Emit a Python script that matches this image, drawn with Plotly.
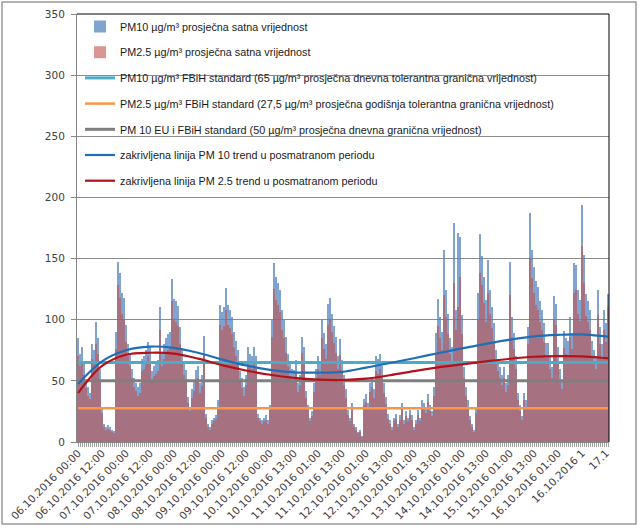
import plotly.graph_objects as go
import pandas as pd

# ---- categories: hourly, one hour (10.10.2016 12:00) missing in the record ----
hours = pd.date_range("2016-10-06 00:00", periods=267, freq="h")
hours = hours[hours != pd.Timestamp("2016-10-10 12:00")]
categories = [h.strftime("%d.%m.%Y %H:%M") for h in hours]

tick_categories = [
    "06.10.2016 00:00", "06.10.2016 12:00", "07.10.2016 00:00", "07.10.2016 12:00",
    "08.10.2016 00:00", "08.10.2016 12:00", "09.10.2016 00:00", "09.10.2016 12:00",
    "10.10.2016 00:00", "10.10.2016 13:00", "11.10.2016 01:00", "11.10.2016 13:00",
    "12.10.2016 01:00", "12.10.2016 13:00", "13.10.2016 01:00", "13.10.2016 13:00",
    "14.10.2016 01:00", "14.10.2016 13:00", "15.10.2016 01:00", "15.10.2016 13:00",
    "16.10.2016 01:00", "16.10.2016 13:00", "17.10.2016 01:00",
]
tick_labels = [
    "06.10.2016 00:00", "06.10.2016 12:00", "07.10.2016 00:00", "07.10.2016 12:00",
    "08.10.2016 00:00", "08.10.2016 12:00", "09.10.2016 00:00", "09.10.2016 12:00",
    "10.10.2016 00:00", "10.10.2016 13:00", "11.10.2016 01:00", "11.10.2016 13:00",
    "12.10.2016 01:00", "12.10.2016 13:00", "13.10.2016 01:00", "13.10.2016 13:00",
    "14.10.2016 01:00", "14.10.2016 13:00", "15.10.2016 01:00", "15.10.2016 13:00",
    "16.10.2016 01:00", "16.10.2016 1", "17.1",
]

# ---- hourly values (µg/m³) ----
pm10 = [
    85, 72, 78, 65, 50, 45, 40, 80, 75, 98, 85, 60,
    28, 15, 12, 14, 12, 10, 9, 90, 147, 138, 122, 118,
    96, 80, 72, 60, 52, 48, 45, 48, 68, 70, 75, 82,
    78, 58, 62, 65, 67, 110, 72, 80, 85, 88, 90, 133,
    117, 115, 111, 94, 75, 65, 59, 37, 29, 43, 50, 59,
    62, 48, 55, 87, 23, 15, 12, 18, 20, 22, 34, 112,
    106, 110, 126, 112, 108, 102, 90, 83, 75, 58, 52, 45,
    55, 78, 72, 70, 78, 70, 23, 20, 18, 20, 22, 18,
    30, 100, 146, 135, 130, 124, 108, 100, 86, 72, 64, 60,
    59, 67, 48, 55, 86, 78, 42, 30, 20, 25, 48, 60,
    70, 65, 100, 89, 80, 113, 118, 105, 95, 86, 70, 84,
    67, 55, 43, 26, 20, 32, 15, 12, 8, 10, 5, 35,
    39, 32, 48, 53, 43, 70, 68, 72, 62, 48, 37, 23,
    18, 12, 20, 23, 15, 22, 32, 18, 25, 20, 26, 22,
    12, 18, 26, 20, 34, 32, 28, 39, 30, 25, 45, 89,
    117, 102, 90, 157, 124, 105, 85, 78, 179, 108, 171, 168,
    104, 61, 45, 34, 21, 15, 10, 29, 122, 170, 152, 135,
    116, 149, 124, 110, 97, 75, 68, 61, 55, 61, 48, 55,
    147, 102, 89, 70, 40, 30, 21, 40, 34, 94, 187, 157,
    143, 132, 127, 115, 108, 97, 81, 81, 70, 61, 119, 113,
    78, 60, 51, 91, 85, 83, 102, 89, 146, 145, 124, 116,
    194, 153, 121, 115, 108, 83, 75, 70, 124, 94, 80, 108,
    97, 121,
]
pm25 = [
    70, 62, 66, 55, 44, 38, 35, 68, 64, 80, 72, 50,
    24, 12, 10, 11, 10, 8, 7, 76, 128, 118, 105, 100,
    82, 70, 62, 52, 45, 42, 38, 40, 58, 60, 64, 70,
    66, 50, 54, 56, 58, 92, 62, 68, 72, 75, 78, 115,
    100, 98, 95, 80, 64, 55, 50, 32, 25, 36, 42, 50,
    52, 40, 46, 72, 20, 12, 10, 15, 17, 19, 29, 96,
    92, 95, 108, 96, 93, 88, 78, 70, 64, 50, 44, 38,
    47, 66, 62, 60, 66, 60, 20, 17, 15, 17, 18, 15,
    26, 86, 125, 116, 112, 106, 92, 85, 73, 62, 54, 51,
    50, 57, 41, 47, 73, 66, 36, 26, 17, 21, 41, 51,
    60, 55, 85, 76, 68, 96, 100, 90, 81, 73, 60, 71,
    57, 47, 36, 22, 17, 27, 12, 10, 7, 8, 4, 30,
    33, 27, 41, 45, 36, 58, 56, 60, 52, 40, 31, 19,
    15, 10, 17, 19, 12, 18, 27, 15, 21, 17, 22, 18,
    10, 15, 22, 17, 29, 27, 24, 33, 25, 21, 38, 72,
    95, 85, 75, 120, 102, 88, 72, 66, 130, 92, 110, 135,
    88, 52, 38, 29, 18, 12, 8, 24, 100, 138, 128, 114,
    98, 122, 105, 93, 82, 64, 58, 52, 47, 52, 41, 47,
    120, 86, 76, 60, 34, 25, 18, 34, 29, 80, 150, 134,
    122, 112, 108, 98, 92, 82, 69, 69, 60, 52, 100, 96,
    66, 51, 43, 77, 72, 70, 86, 76, 122, 124, 105, 99,
    160, 130, 103, 98, 92, 70, 64, 60, 104, 80, 68, 92,
    82, 110,
]

# standards (µg/m³)
std_pm10_fbih = 65
std_pm25_fbih = 27.5
std_pm10_eu = 50

# trend curves read at every 12th category (+ last)
trend_categories = tick_categories + ["17.10.2016 02:00"]
trend_pm10 = [47.5, 66, 75, 78, 77, 73, 67.5, 62.6, 59, 57, 56.7, 57.3,
              60.8, 64.6, 68.5, 72.6, 76.6, 80.3, 83.7, 86.4, 87.6, 88, 86.3, 86.2]
trend_pm25 = [40, 62.3, 71.4, 73, 72.3, 68.2, 62.9, 58.5, 55, 52.5, 51, 50.7,
              51.8, 54.6, 57.9, 61, 63.5, 65.9, 68.1, 69.7, 70.2, 70, 68.6, 68.5]

names = [
    "PM10 µg/m³ prosječna satna vrijednost",
    "PM2.5 µg/m³ prosječna satna vrijednost",
    "PM10 µg/m³ FBiH standard (65 µg/m³ prosječna dnevna tolerantna granična vrijednost)",
    "PM2.5 µg/m³ FBiH standard (27,5 µg/m³ prosječna godišnja tolerantna granična vrijednost)",
    "PM 10 EU i FBiH standard (50 µg/m³ prosječna dnevna granična vrijednost)",
    "zakrivljena linija PM 10 trend u posmatranom periodu",
    "zakrivljena linija PM 2.5 trend u posmatranom periodu",
]

pos = {c: i for i, c in enumerate(categories)}
xi = [pos[c] for c in categories]
tick_x = [pos[c] for c in tick_categories]
trend_x = [pos[c] for c in trend_categories]
n = len(categories)

# plot area: 2 px per hourly category
ML, MR = 77, 31
PW = 640 - ML - MR
PH = 528 - 14 - 86


def px_x(p):
    return (p - ML) / PW


def px_y(p):
    return (442 - p) / PH


fig = go.Figure()
# both series fill the hour slot; the translucent PM2.5 bar over PM10 gives the
# blended mauve look of the densely packed clustered columns
fig.add_trace(go.Bar(x=xi, y=pm10, name=names[0], marker_color="rgba(79,129,189,0.72)",
                     marker_line_width=0, customdata=categories, legendgroup="a",
                     hovertemplate="%{customdata}<br>%{y}<extra></extra>"))
fig.add_trace(go.Bar(x=xi, y=pm25, name=names[1], marker_color="rgba(192,80,77,0.6)",
                     marker_line_width=0, customdata=categories, legendgroup="b",
                     hovertemplate="%{customdata}<br>%{y}<extra></extra>"))
fig.add_trace(go.Scatter(x=xi, y=[std_pm10_fbih] * n, name=names[2], mode="lines",
                         line=dict(color="#4BACC6", width=3), legendgroup="c"))
fig.add_trace(go.Scatter(x=xi, y=[std_pm25_fbih] * n, name=names[3], mode="lines",
                         line=dict(color="#F79646", width=2.5), legendgroup="d"))
fig.add_trace(go.Scatter(x=xi, y=[std_pm10_eu] * n, name=names[4], mode="lines",
                         line=dict(color="#7F7F7F", width=3), legendgroup="e"))
fig.add_trace(go.Scatter(x=trend_x, y=trend_pm10, name=names[5], mode="lines",
                         line=dict(color="#1F6EB8", width=2.2, shape="spline"), legendgroup="f"))
fig.add_trace(go.Scatter(x=trend_x, y=trend_pm25, name=names[6], mode="lines",
                         line=dict(color="#B3121B", width=2.2, shape="spline"), legendgroup="g"))

fig.update_layout(
    width=640, height=528,
    margin=dict(l=ML, r=MR, t=14, b=86, autoexpand=False),
    paper_bgcolor="white", plot_bgcolor="white",
    barmode="overlay", bargap=0,
    showlegend=True,
    legend=dict(x=px_x(80), y=px_y(12), xanchor="left", yanchor="top",
                bgcolor="rgba(0,0,0,0)", borderwidth=0,
                font=dict(family="Liberation Sans", size=10.8, color="#1a1a1a"),
                tracegroupgap=6.7, traceorder="grouped"),
    font=dict(family="DejaVu Sans", size=10.5, color="#404040"),
    xaxis=dict(range=[-0.5, n - 0.5], tickmode="array", tickvals=tick_x,
               ticktext=tick_labels, tickangle=-45, showgrid=False, zeroline=False,
               automargin=False,
               showline=True, linecolor="#868686", linewidth=1, ticks="",
               tickfont=dict(family="DejaVu Sans", size=10.5, color="#404040"),
               minor=dict(tickmode="linear", tick0=0, dtick=1, ticks="outside",
                          ticklen=4, tickcolor="#a0a0a0", showgrid=False)),
    yaxis=dict(range=[0, 350], dtick=50, showgrid=True, gridcolor="#8c8c8c", gridwidth=1,
               zeroline=False, showline=True, linecolor="#868686", linewidth=1,
               automargin=False,
               ticks="outside", ticklen=5, tickcolor="#868686", ticklabelstandoff=4,
               tickfont=dict(family="DejaVu Sans", size=10.5, color="#404040")),
    shapes=[
        dict(type="line", xref="paper", yref="paper", x0=0, x1=1, y0=1, y1=1,
             line=dict(color="black", width=1)),
        dict(type="line", xref="paper", yref="paper", x0=1, x1=1, y0=0, y1=1,
             line=dict(color="black", width=1)),
        dict(type="rect", xref="paper", yref="paper", x0=px_x(2), x1=px_x(636),
             y0=px_y(524), y1=px_y(2), line=dict(color="#9a9a9a", width=1.5),
             fillcolor="rgba(0,0,0,0)"),
    ],
)

fig.write_html("out.html")
